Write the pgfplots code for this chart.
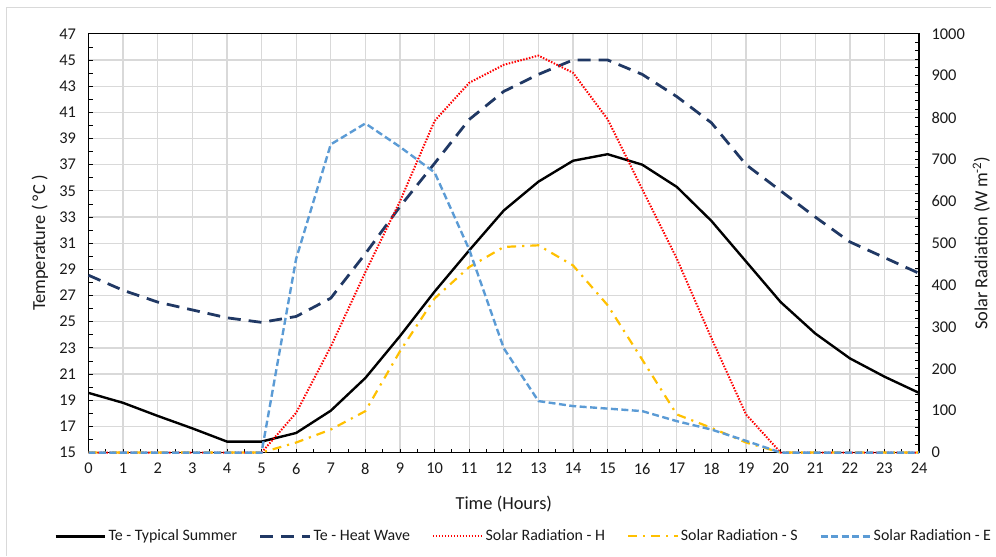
\documentclass[border=0pt]{standalone}
\usepackage{pgfplots}
\pgfplotsset{compat=1.18}
\usepackage{fontspec}
\setmainfont{Carlito}
\definecolor{navy}{HTML}{203864}
\definecolor{solred}{HTML}{FF0000}
\definecolor{solyel}{HTML}{FFC000}
\definecolor{solblue}{HTML}{5B9BD5}
\definecolor{gridc}{HTML}{D9D9D9}
\definecolor{txt}{HTML}{1A1A1A}
\tikzset{
  tsum/.style={black, line width=2.4bp},
  theat/.style={navy, line width=2.8bp, dash pattern=on 13bp off 8bp},
  sh/.style={solred, line width=2bp, dash pattern=on 1.5bp off 1.5bp},
  ss/.style={solyel, line width=2.2bp, dash pattern=on 9bp off 6bp on 2.2bp off 6bp},
  se/.style={solblue, line width=2.4bp, dash pattern=on 7bp off 3.5bp},
}
\begin{document}
\fontsize{16bp}{18bp}\selectfont
\begin{tikzpicture}
\begin{axis}[
  name=ax,
  scale only axis, width=835bp, height=421bp,
  xmin=0, xmax=24, ymin=15, ymax=47,
  xtick={0,1,...,24}, ytick={15,17,...,47},
  minor x tick num=1, minor y tick num=1,
  xtick pos=bottom, ytick pos=left,
  tick align=inside,
  major tick length=4bp, minor tick length=4bp,
  every tick/.style={black, line width=0.8bp},
  xmajorgrids, ymajorgrids,
  major grid style={gridc, line width=1.3bp},
  axis line style={black, line width=1.2bp},
  tick label style={font=\fontsize{16.5bp}{18bp}\selectfont, text=txt},
  xticklabel style={yshift=-5bp},
  yticklabel style={xshift=-7bp},
  label style={font=\fontsize{18.5bp}{20bp}\selectfont, text=txt},
  /pgf/number format/assume math mode=true,
  xlabel={Time (Hours)},
  xlabel style={at={(axis description cs:0.5,-0.122)}, anchor=center},
  ylabel={Temperature ( °C )},
  ylabel style={at={(axis description cs:-0.0587,0.5)}, anchor=center},
  clip=false,
]
\addplot[tsum] coordinates {
(0,19.56) (1,18.8) (2,17.8) (3,16.85) (4,15.84) (5,15.84) (6,16.5) (7,18.2) (8,20.7)
(9,23.9) (10,27.3) (11,30.45) (12,33.5) (13,35.7) (14,37.3) (15,37.8) (16,37.0)
(17,35.3) (18,32.7) (19,29.6) (20,26.5) (21,24.1) (22,22.2) (23,20.8) (24,19.56)};
\addplot[theat] coordinates {
(0,28.55) (1,27.4) (2,26.5) (3,25.9) (4,25.3) (5,24.95) (6,25.4) (7,26.8) (8,30.2)
(9,33.8) (10,37.1) (11,40.45) (12,42.6) (13,43.9) (14,45.0) (15,45.0) (16,43.9)
(17,42.2) (18,40.2) (19,37.0) (20,35.0) (21,33.0) (22,31.1) (23,29.9) (24,28.7)};
\end{axis}
\begin{axis}[
  scale only axis, width=835bp, height=421bp,
  xmin=0, xmax=24, ymin=0, ymax=1000,
  axis x line=none, axis y line*=right,
  ytick={0,100,...,1000}, minor y tick num=4,
  tick align=inside,
  major tick length=4bp, minor tick length=4bp,
  every tick/.style={black, line width=0.8bp},
  axis line style={black, line width=1.2bp},
  tick label style={font=\fontsize{16.5bp}{18bp}\selectfont, text=txt},
  yticklabel style={xshift=7bp},
  label style={font=\fontsize{18.5bp}{20bp}\selectfont, text=txt},
  /pgf/number format/assume math mode=true,
  /pgf/number format/1000 sep={},
  ylabel={Solar Radiation (W\,m\textsuperscript{-2})},
  ylabel style={at={(axis description cs:1.075,0.5)}, anchor=center},
  legend columns=5,
  legend style={at={(axis description cs:0.524,-0.2)}, anchor=center, draw=none,
    font=\fontsize{16bp}{18bp}\selectfont, text=txt,
    /tikz/every even column/.append style={column sep=20bp}},
  legend image code/.code={\draw[#1] (0bp,0bp) -- (50bp,0bp);},
  clip=false,
]
\addlegendimage{tsum}\addlegendentry{Te - Typical Summer}
\addlegendimage{theat}\addlegendentry{Te - Heat Wave}
\addplot[sh] coordinates {
(0,0) (1,0) (2,0) (3,0) (4,0) (5,0) (6,95) (7,253) (8,431) (9,600) (10,792) (11,883)
(12,926) (13,948) (14,907) (15,796) (16,629) (17,463) (18,273) (19,91) (20,0)
(21,0) (22,0) (23,0) (24,0)};
\addlegendentry{Solar Radiation - H}
\addplot[ss] coordinates {
(0,0) (1,0) (2,0) (3,0) (4,0) (5,0) (6,24) (7,55) (8,99) (9,242) (10,368) (11,443)
(12,491) (13,495) (14,447) (15,352) (16,222) (17,91) (18,59) (19,24) (20,0)
(21,0) (22,0) (23,0) (24,0)};
\addlegendentry{Solar Radiation - S}
\addplot[se] coordinates {
(0,0) (1,0) (2,0) (3,0) (4,0) (5,0) (6,463) (7,736) (8,786) (9,730) (10,669) (11,485)
(12,249) (13,123) (14,111) (15,105) (16,99) (17,75) (18,55) (19,28) (20,0)
(21,0) (22,0) (23,0) (24,0)};
\addlegendentry{Solar Radiation - E}
\end{axis}
\useasboundingbox (-89bp,-104bp) rectangle (907bp,455bp);
\draw[gridc, line width=1bp] (-82bp,-104bp) -- (-82bp,447bp) -- (907bp,447bp);
\end{tikzpicture}
\end{document}
